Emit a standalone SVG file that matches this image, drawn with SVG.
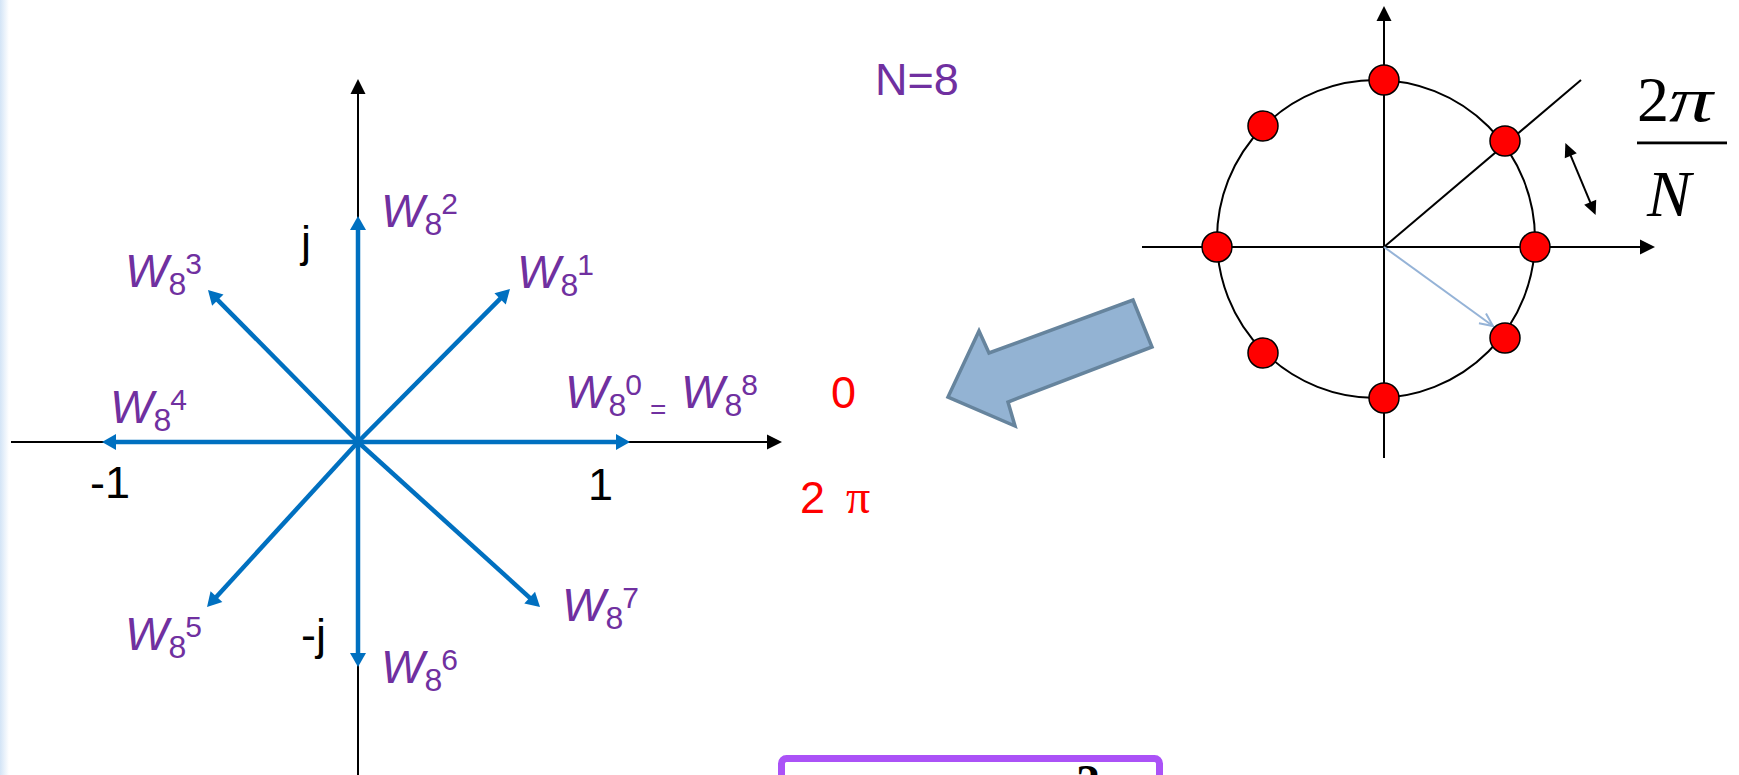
<svg xmlns="http://www.w3.org/2000/svg" width="1739" height="775" viewBox="0 0 1739 775">
<defs>
<linearGradient id="edge" x1="0" y1="0" x2="1" y2="0">
<stop offset="0" stop-color="#D3E4F6"/>
<stop offset="1" stop-color="#FFFFFF"/>
</linearGradient>
<marker id="bh" markerUnits="userSpaceOnUse" markerWidth="20" markerHeight="20" refX="1" refY="0" viewBox="0 -10 20 20" orient="auto" overflow="visible">
<path d="M0,-8 L14,0 L0,8 z" fill="#0070C0"/>
</marker>
<marker id="kh" markerUnits="userSpaceOnUse" markerWidth="20" markerHeight="20" refX="1" refY="0" viewBox="0 -10 20 20" orient="auto" overflow="visible">
<path d="M0,-7.5 L15,0 L0,7.5 z" fill="#000"/>
</marker>
<marker id="kh2" markerUnits="userSpaceOnUse" markerWidth="20" markerHeight="20" refX="1" refY="0" viewBox="0 -10 20 20" orient="auto-start-reverse" overflow="visible">
<path d="M0,-6.5 L14,0 L0,6.5 z" fill="#000"/>
</marker>
<marker id="lh" markerUnits="userSpaceOnUse" markerWidth="20" markerHeight="20" refX="0" refY="0" viewBox="-15 -10 20 20" orient="auto" overflow="visible">
<path d="M-13,-6 L0,0 L-13,6" fill="none" stroke="#95B3D7" stroke-width="2"/>
</marker>
</defs>
<style>
.ax{stroke:#000;stroke-width:2;fill:none}
.vec{stroke:#0070C0;stroke-width:4.5;fill:none;marker-end:url(#bh)}
.w{font-family:"Liberation Sans",Arial,sans-serif;font-style:italic;font-size:46px;fill:#7030A0}
.sub{font-size:32px;font-style:normal}
.sup{font-size:30px;font-style:normal}
.eq{font-size:28px;font-style:normal}
.t{font-family:"Liberation Sans",Arial,sans-serif;font-size:45px;fill:#000}
.red{fill:#FF0000}
.dot{fill:#FF0000;stroke:#000;stroke-width:1.5}
.serif{font-family:"Liberation Serif","Times New Roman",serif}
</style>
<rect x="0" y="0" width="1739" height="775" fill="#FFFFFF"/>
<rect x="0" y="0" width="9" height="775" fill="url(#edge)"/>

<g id="connectors">
<line class="ax" x1="11" y1="442" x2="768" y2="442" marker-end="url(#kh)"/>
<line class="ax" x1="358" y1="775" x2="358" y2="93" marker-end="url(#kh)"/>
<line class="vec" x1="358" y1="442" x2="617" y2="442"/>
<line class="vec" x1="358" y1="442" x2="500.8" y2="298.2"/>
<line class="vec" x1="358" y1="442" x2="358" y2="229"/>
<line class="vec" x1="358" y1="442" x2="217.1" y2="299.3"/>
<line class="vec" x1="358" y1="442" x2="115" y2="442"/>
<line class="vec" x1="358" y1="442" x2="215.8" y2="597.4"/>
<line class="vec" x1="358" y1="442" x2="358" y2="654"/>
<line class="vec" x1="358" y1="442" x2="530.4" y2="598.3"/>
<line class="ax" x1="1142" y1="247" x2="1641" y2="247" marker-end="url(#kh)"/>
<line class="ax" x1="1384" y1="458" x2="1384" y2="20" marker-end="url(#kh)"/>
<line class="ax" x1="1384" y1="247" x2="1581" y2="80"/>
<line x1="1384" y1="247" x2="1493" y2="326" stroke="#95B3D7" stroke-width="2" marker-end="url(#lh)"/>
<line class="ax" x1="1570.4" y1="154.9" x2="1590.6" y2="203.1" marker-start="url(#kh2)" marker-end="url(#kh2)"/>
</g>

<g id="unit-circle">
<circle cx="1376" cy="239" r="159" fill="none" stroke="#000" stroke-width="2"/>
<circle class="dot" cx="1384" cy="80" r="15"/>
<circle class="dot" cx="1263" cy="126" r="15"/>
<circle class="dot" cx="1505" cy="141" r="15"/>
<circle class="dot" cx="1217" cy="247" r="15"/>
<circle class="dot" cx="1535" cy="247" r="15"/>
<circle class="dot" cx="1263" cy="353" r="15"/>
<circle class="dot" cx="1505" cy="338" r="15"/>
<circle class="dot" cx="1384" cy="398" r="15"/>
</g>

<g id="fraction">
<text class="serif" x="1637" y="121" font-size="64" fill="#000">2</text>
<text class="serif" x="1669" y="121" font-size="64" font-style="italic" fill="#000" textLength="44" lengthAdjust="spacingAndGlyphs">π</text>
<rect x="1637" y="141.5" width="90" height="2.8" fill="#000"/>
<text class="serif" x="1647" y="216" font-size="66" font-style="italic" fill="#000">N</text>
</g>

<g id="big-arrow">
<path d="M1133,300 L1152,347 L1008,402 L1015,426 L948,397 L979,331 L989,353 Z" fill="#93B3D3" stroke="#66849D" stroke-width="3.5" stroke-linejoin="miter"/>
</g>

<g id="label-n8"><text class="t" x="875" y="95" style="fill:#7030A0">N=8</text></g>

<g id="label-j"><text class="t" x="301" y="257">j</text></g>
<g id="label-mj"><text class="t" x="301" y="650">-j</text></g>
<g id="label-1"><text class="t" x="588" y="500">1</text></g>
<g id="label-m1"><text class="t" x="90" y="498">-1</text></g>
<g id="label-0"><text class="t red" x="831" y="408">0</text></g>
<g id="label-2pi"><text class="t red" x="800" y="513">2<tspan class="serif" x="846" font-size="48">π</tspan></text></g>

<g id="label-w1"><text class="w" x="517" y="288">W<tspan class="sub" dy="8">8</tspan><tspan class="sup" dy="-21" dx="-1">1</tspan></text></g>
<g id="label-w2"><text class="w" x="381" y="227">W<tspan class="sub" dy="8">8</tspan><tspan class="sup" dy="-21" dx="-1">2</tspan></text></g>
<g id="label-w3"><text class="w" x="125" y="287">W<tspan class="sub" dy="8">8</tspan><tspan class="sup" dy="-21" dx="-1">3</tspan></text></g>
<g id="label-w4"><text class="w" x="110" y="423">W<tspan class="sub" dy="8">8</tspan><tspan class="sup" dy="-21" dx="-1">4</tspan></text></g>
<g id="label-w5"><text class="w" x="125" y="650">W<tspan class="sub" dy="8">8</tspan><tspan class="sup" dy="-21" dx="-1">5</tspan></text></g>
<g id="label-w6"><text class="w" x="381" y="683">W<tspan class="sub" dy="8">8</tspan><tspan class="sup" dy="-21" dx="-1">6</tspan></text></g>
<g id="label-w7"><text class="w" x="562" y="621">W<tspan class="sub" dy="8">8</tspan><tspan class="sup" dy="-21" dx="-1">7</tspan></text></g>
<g id="label-w0"><text class="w" x="565" y="408">W<tspan class="sub" dy="8">8</tspan><tspan class="sup" dy="-21" dx="-1">0</tspan><tspan class="eq" x="650" y="419">=</tspan><tspan x="681" y="408">W</tspan><tspan class="sub" dy="8">8</tspan><tspan class="sup" dy="-21" dx="-1">8</tspan></text></g>

<g id="formula-box">
<rect x="781.5" y="758.5" width="378" height="40" rx="5" fill="#FFFFFF" stroke="#AB52F7" stroke-width="7"/>
<text class="serif" x="1076" y="798" font-size="48" font-weight="bold" fill="#000">2</text>
</g>
</svg>
